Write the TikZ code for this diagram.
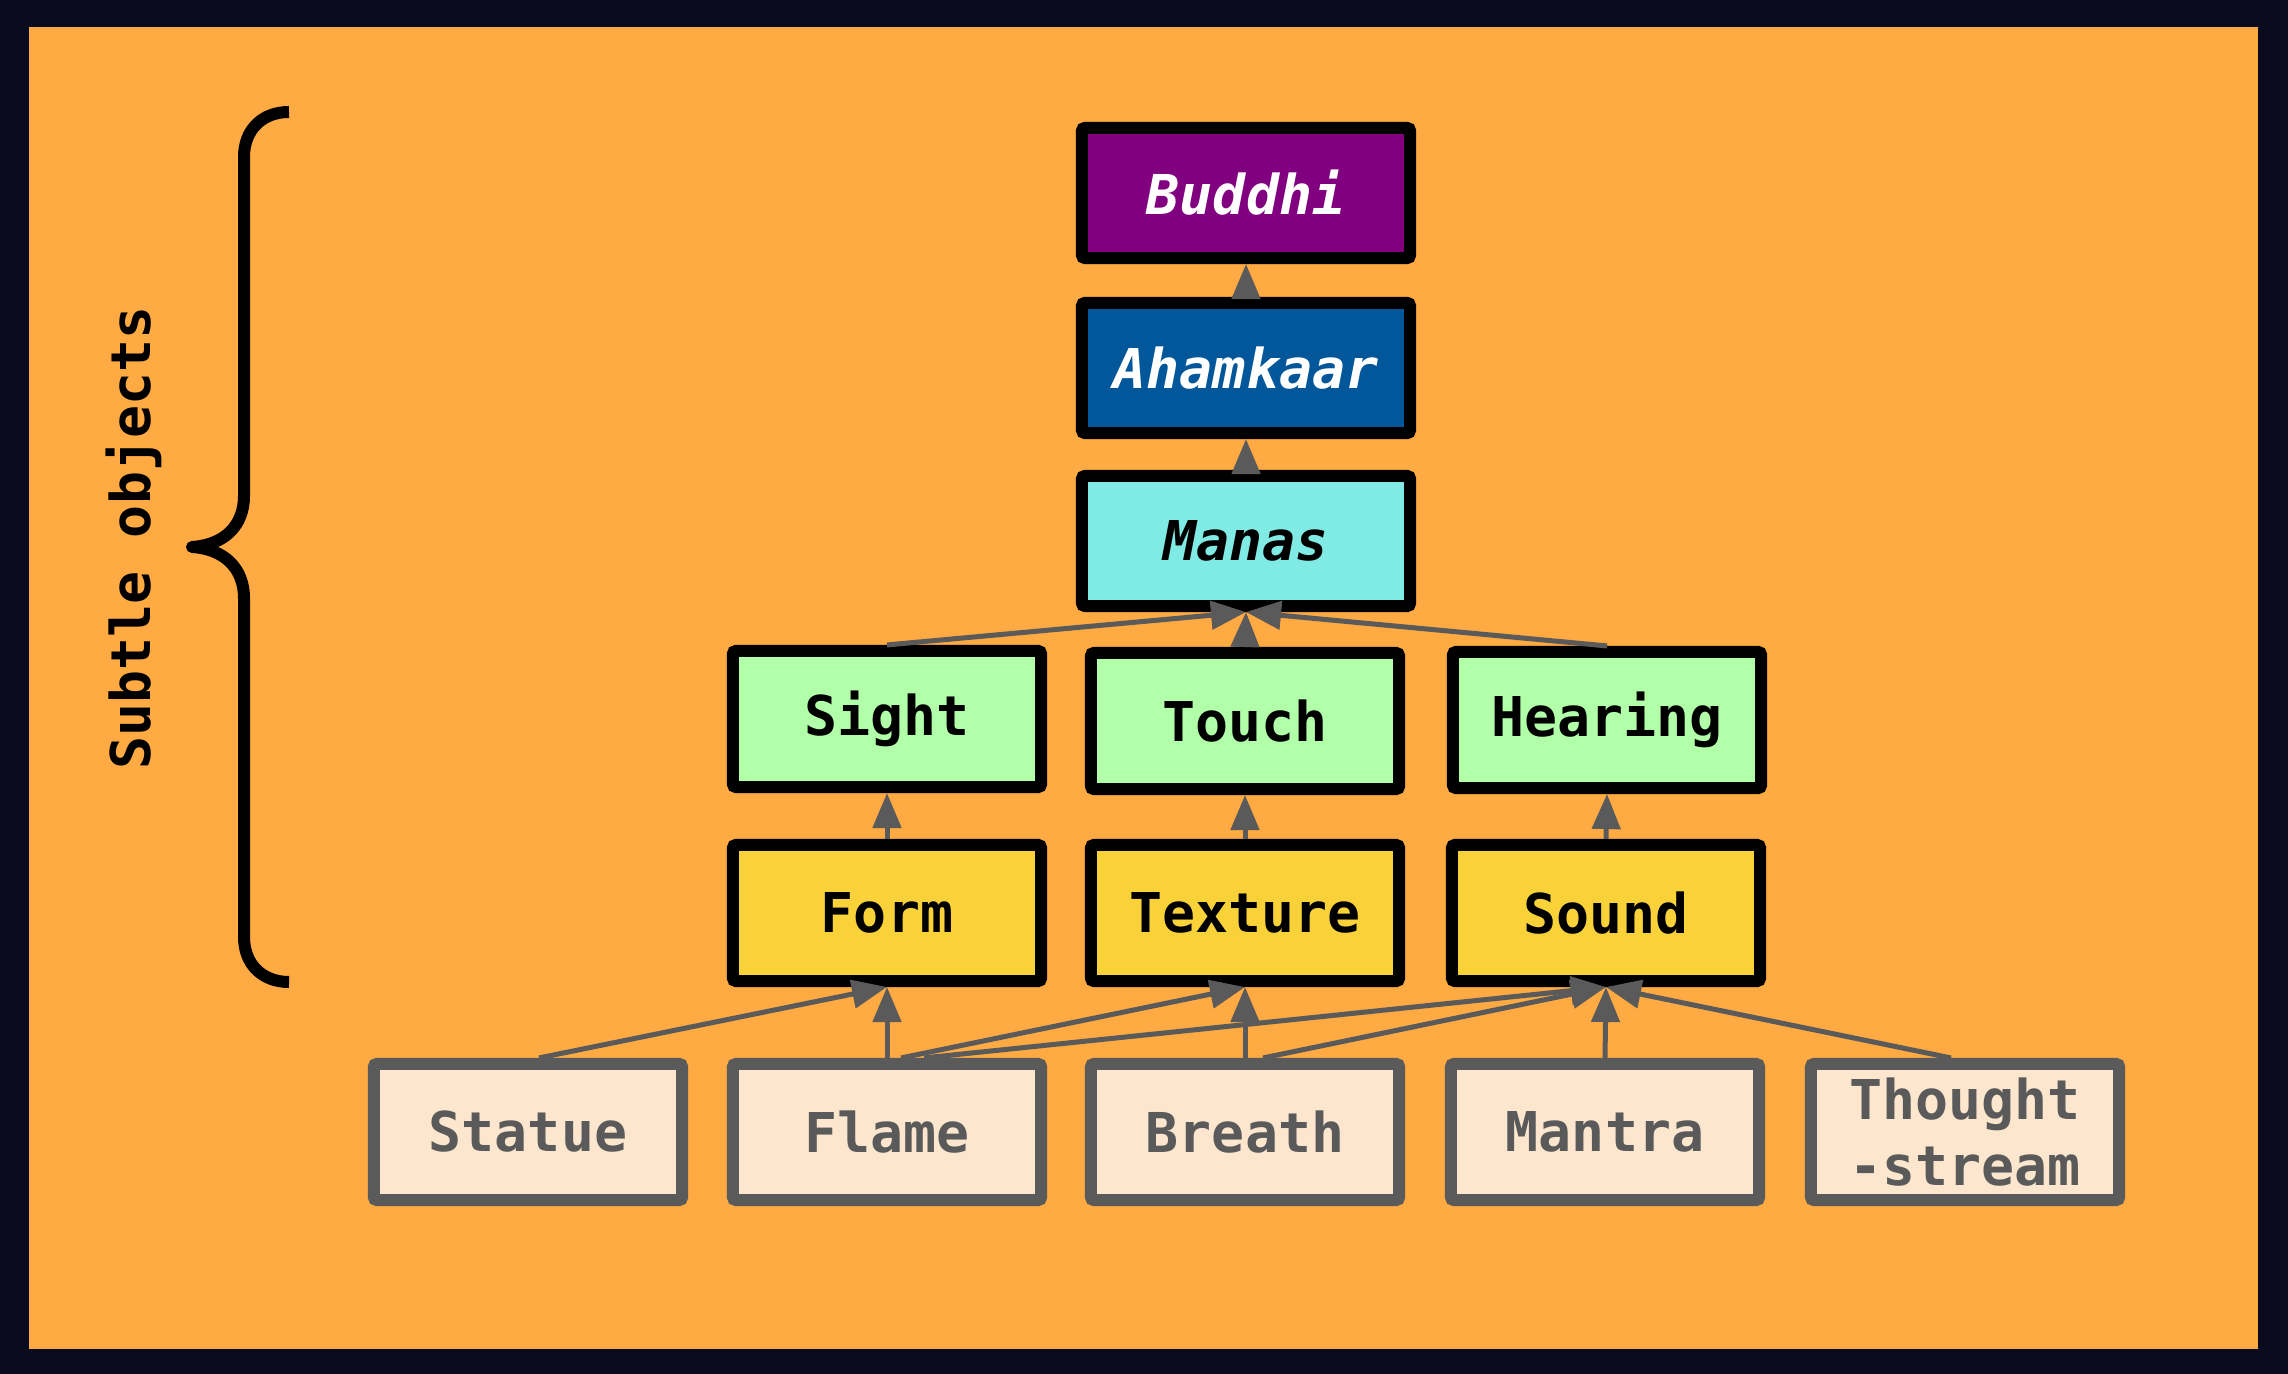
\documentclass[tikz,border=0pt]{standalone}
\usepackage{fontspec}
\newfontfamily\monof{DejaVu Sans Mono}
\usetikzlibrary{arrows.meta}
\definecolor{bgc}{HTML}{FFAA42}
\definecolor{framec}{HTML}{0A0A1E}
\definecolor{buddhic}{HTML}{800080}
\definecolor{ahamc}{HTML}{02569A}
\definecolor{manasc}{HTML}{80EAE4}
\definecolor{sensec}{HTML}{B2FFAA}
\definecolor{objc}{HTML}{F9D23A}
\definecolor{srcc}{HTML}{FDE6CE}
\definecolor{greyc}{HTML}{5A5A5A}
\begin{document}
\begin{tikzpicture}[x=0.01cm,y=-0.01cm,
  box/.style={draw=black, line width=0.12cm, rounded corners=0.03cm,
    minimum width=3.08cm, minimum height=1.36cm, inner sep=0pt, outer sep=auto,
    align=center, font=\monof\bfseries\fontsize{15.6}{18.8}\selectfont},
  topbox/.style={box, minimum width=3.28cm, minimum height=1.30cm,
    font=\monof\bfseries\itshape\fontsize{15.6}{18.8}\selectfont},
  srcbox/.style={box, draw=greyc, fill=srcc, text=greyc},
  edge/.style={draw=greyc, line width=0.05cm, -{Triangle[length=0.35cm,width=0.28cm]}}]
\useasboundingbox (0,0) rectangle (2288,1374);
\fill[framec] (0,0) rectangle (2288,1374);
\fill[bgc] (29,27) rectangle (2258,1349);

% brace and label
\draw[line width=0.12cm, line join=round] (289,112) .. controls (262,112) and (244,130) .. (244,157)
  -- (244,496) .. controls (244,525) and (225,545) .. (192,547)
  .. controls (225,549) and (244,569) .. (244,598)
  -- (244,937) .. controls (244,964) and (262,982) .. (289,982);
\node[rotate=90, font=\monof\bfseries\fontsize{15.6}{18.8}\selectfont] (lbl) at (134,538) {Subtle objects};

% top chain
\node[topbox, fill=buddhic, text=white] (buddhi) at (1246,193) {Buddhi};
\node[topbox, fill=ahamc, text=white] (aham) at (1246,368) {Ahamkaar};
\node[topbox, fill=manasc] (manas) at (1246,541) {Manas};

% senses
\node[box, fill=sensec] (sight) at (887,719) {Sight};
\node[box, fill=sensec] (touch) at (1245,721) {Touch};
\node[box, fill=sensec] (hearing) at (1607,720) {Hearing};

% objects
\node[box, fill=objc] (form) at (887,913) {Form};
\node[box, fill=objc] (texture) at (1245,913) {Texture};
\node[box, fill=objc] (sound) at (1606,913) {Sound};

% sources
\node[srcbox] (statue) at (528,1132) {Statue};
\node[srcbox] (flame) at (887,1132) {Flame};
\node[srcbox] (breath) at (1245,1132) {Breath};
\node[srcbox] (mantra) at (1605,1132) {Mantra};
\node[srcbox] (thought) at (1965,1132) {Thought\\-stream};

% edges
\draw[edge] (aham.north) -- (buddhi.south);
\draw[edge] (manas.north) -- (aham.south);
\draw[edge] (sight.north) -- (manas.south);
\draw[edge] (touch.north) -- (manas.south);
\draw[edge] (hearing.north) -- (manas.south);
\draw[edge] (form.north) -- (sight.south);
\draw[edge] (texture.north) -- (touch.south);
\draw[edge] (sound.north) -- (hearing.south);
\draw[edge] ([xshift=0.11cm]statue.north) -- (form.south);
\draw[edge] (flame.north) -- (form.south);
\draw[edge] ([xshift=0.14cm]flame.north) -- (texture.south);
\draw[edge] ([xshift=0.37cm]flame.north) -- (sound.south);
\draw[edge] (breath.north) -- (texture.south);
\draw[edge] ([xshift=0.18cm]breath.north) -- (sound.south);
\draw[edge] (mantra.north) -- (sound.south);
\draw[edge] ([xshift=-0.14cm]thought.north) -- (sound.south);
\end{tikzpicture}
\end{document}
